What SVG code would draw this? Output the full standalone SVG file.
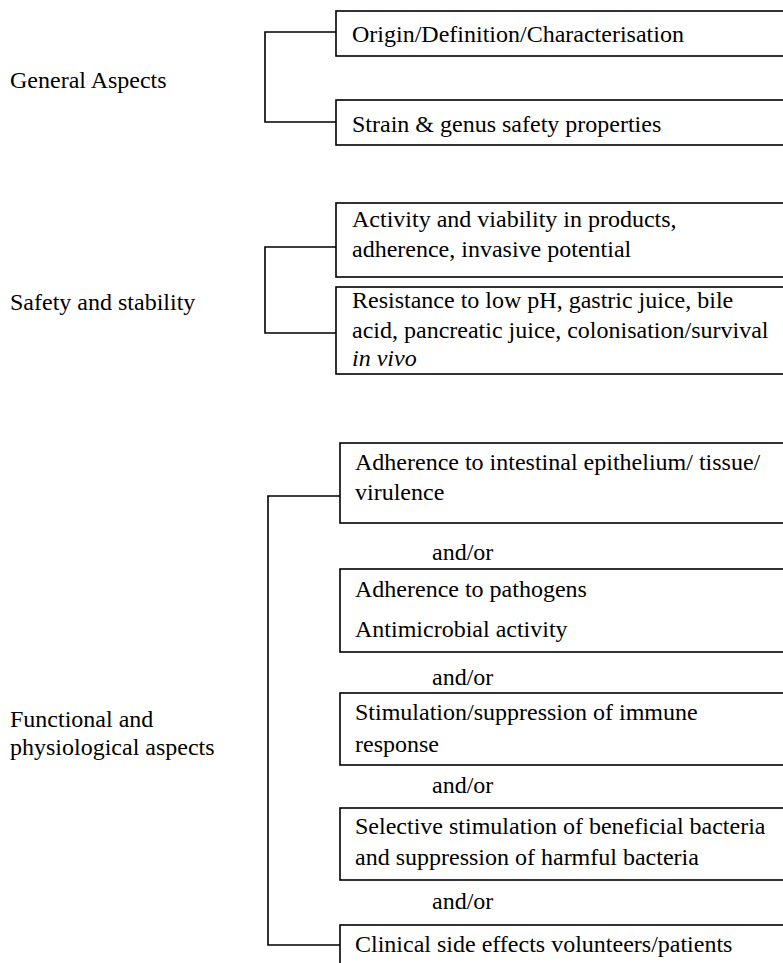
<svg xmlns="http://www.w3.org/2000/svg" width="783" height="963" viewBox="0 0 783 963">
<style>
.box{fill:#fff;stroke:#000;stroke-width:1.6}
.con{fill:none;stroke:#000;stroke-width:1.6}
text{font-family:"Liberation Serif","Times New Roman",serif;font-size:24px;fill:#000}
</style>
<rect width="783" height="963" fill="#fff"/>
<g id="connectors">
<path class="con" d="M336,32 H265 V122 H336"/>
<path class="con" d="M336,247 H265 V333 H336"/>
<path class="con" d="M340,496 H268 V945 H340"/>
</g>
<g id="label-general"><text x="10" y="88">General Aspects</text></g>
<g id="label-safety"><text x="10" y="310">Safety and stability</text></g>
<g id="label-functional"><text x="10" y="727">Functional and</text><text x="10" y="755">physiological aspects</text></g>
<g id="n1"><rect class="box" x="336" y="11" width="470" height="45"/><text x="352" y="42">Origin/Definition/Characterisation</text></g>
<g id="n2"><rect class="box" x="336" y="100" width="470" height="45"/><text x="352" y="132">Strain &amp; genus safety properties</text></g>
<g id="n3"><rect class="box" x="336" y="203" width="470" height="74"/><text x="352" y="227">Activity and viability in products,</text><text x="352" y="257">adherence, invasive potential</text></g>
<g id="n4"><rect class="box" x="336" y="287" width="470" height="87"/><text x="352" y="308">Resistance to low pH, gastric juice, bile</text><text x="352" y="338">acid, pancreatic juice, colonisation/survival</text><text x="352" y="366" font-style="italic">in vivo</text></g>
<g id="n5"><rect class="box" x="340" y="443" width="470" height="80"/><text x="355" y="470">Adherence to intestinal epithelium/ tissue/</text><text x="355" y="500">virulence</text></g>
<g id="t1"><text x="432" y="560">and/or</text></g>
<g id="n6"><rect class="box" x="340" y="569" width="470" height="83"/><text x="355" y="597">Adherence to pathogens</text><text x="355" y="637">Antimicrobial activity</text></g>
<g id="t2"><text x="432" y="685">and/or</text></g>
<g id="n7"><rect class="box" x="340" y="693" width="470" height="72"/><text x="355" y="720">Stimulation/suppression of immune</text><text x="355" y="752">response</text></g>
<g id="t3"><text x="432" y="793">and/or</text></g>
<g id="n8"><rect class="box" x="340" y="808" width="470" height="72"/><text x="355" y="834">Selective stimulation of beneficial bacteria</text><text x="355" y="865">and suppression of harmful bacteria</text></g>
<g id="t4"><text x="432" y="909">and/or</text></g>
<g id="n9"><rect class="box" x="340" y="925" width="470" height="60"/><text x="355" y="952">Clinical side effects volunteers/patients</text></g>
</svg>
